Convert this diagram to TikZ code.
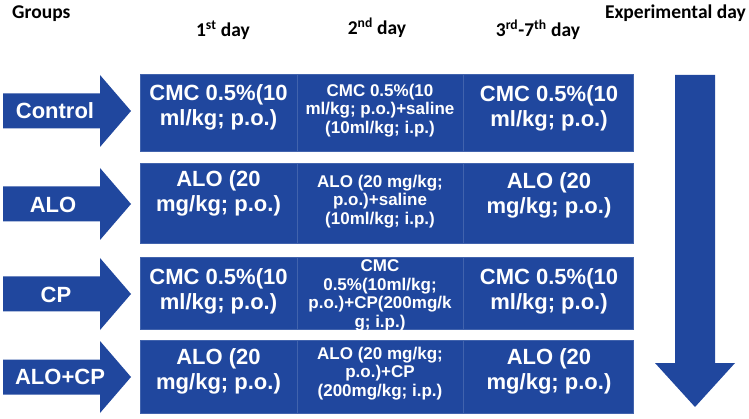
\documentclass[tikz,border=0pt]{standalone}
\usepackage{fontspec}
\setmainfont{Liberation Sans}
\newfontfamily\hdrfont{Carlito}
\definecolor{boxblue}{RGB}{32,71,158}

\begin{document}
\begin{tikzpicture}[x=1pt, y=-1pt,
    cell/.style={fill=boxblue, draw=boxblue!85!white, line width=0.5pt, inner sep=0pt},
    bigtxt/.style={text=white, font=\bfseries\fontsize{22}{25}\selectfont, align=center},
    smalltxt/.style={text=white, font=\bfseries\fontsize{17}{18.5}\selectfont, align=center},
    grplbl/.style={text=white, font=\bfseries\fontsize{22}{25}\selectfont},
    hdr/.style={font=\hdrfont\bfseries\fontsize{19.5}{22}\selectfont, inner sep=0pt}]
    \useasboundingbox (0,0) rectangle (749,419);

    % Headers
    \node[hdr, anchor=base west] (hgrp) at (12,19) {Groups};
    \node[hdr, anchor=base east] (hexp) at (746,19) {Experimental day};
    \node[hdr, anchor=base] (hday1) at (223,37) {1\textsuperscript{st} day};
    \node[hdr, anchor=base] (hday2) at (377,35) {2\textsuperscript{nd} day};
    \node[hdr, anchor=base] (hday3) at (538,37) {3\textsuperscript{rd}-7\textsuperscript{th} day};

    % Group arrows
    \foreach \yc in {111,204,294,377}
        \fill[boxblue] (3,\yc-17.5) -- (100,\yc-17.5) -- (100,\yc-36) -- (131,\yc)
            -- (100,\yc+36) -- (100,\yc+17.5) -- (3,\yc+17.5) -- cycle;
    \node[grplbl] (gctl) at (55,111) {Control};
    \node[grplbl] (galo) at (53,205) {ALO};
    \node[grplbl] (gcp) at (56,295) {CP};
    \node[grplbl] (galocp) at (60,377) {ALO+CP};

    % Control
    \node[cell, minimum width=157pt, minimum height=77pt] (ctl1) at (218.5,112.5) {};
    \node[cell, minimum width=166pt, minimum height=77pt] (ctl2) at (380,112.5) {};
    \node[cell, minimum width=170pt, minimum height=77pt] (ctl3) at (548,112.5) {};
    \node[bigtxt] (ctl1t) at (218.5,107) {CMC 0.5\%(10\\ml/kg; p.o.)};
    \node[smalltxt] (ctl2t) at (380,110.5) {CMC 0.5\%(10\\ml/kg; p.o.)+saline\\(10ml/kg; i.p.)};
    \node[bigtxt] (ctl3t) at (549,108) {CMC 0.5\%(10\\ml/kg; p.o.)};

    % ALO
    \node[cell, minimum width=157pt, minimum height=80pt] (alo1) at (218.5,203) {};
    \node[cell, minimum width=166pt, minimum height=80pt] (alo2) at (380,203) {};
    \node[cell, minimum width=170pt, minimum height=80pt] (alo3) at (548,203) {};
    \node[bigtxt] (alo1t) at (218.5,193) {ALO (20\\mg/kg; p.o.)};
    \node[smalltxt] (alo2t) at (380,201.5) {ALO (20 mg/kg;\\p.o.)+saline\\(10ml/kg; i.p.)};
    \node[bigtxt] (alo3t) at (549,195) {ALO (20\\mg/kg; p.o.)};

    % CP
    \node[cell, minimum width=157pt, minimum height=72pt] (cp1) at (218.5,293) {};
    \node[cell, minimum width=166pt, minimum height=72pt] (cp2) at (380,293) {};
    \node[cell, minimum width=170pt, minimum height=72pt] (cp3) at (548,293) {};
    \node[bigtxt] (cp1t) at (218.5,291) {CMC 0.5\%(10\\ml/kg; p.o.)};
    \node[smalltxt] (cp2t) at (380,295.5) {CMC\\0.5\%(10ml/kg;\\p.o.)+CP(200mg/k\\g; i.p.)};
    \node[bigtxt] (cp3t) at (549,291) {CMC 0.5\%(10\\ml/kg; p.o.)};

    % ALO+CP
    \node[cell, minimum width=157pt, minimum height=73pt] (ac1) at (218.5,376.5) {};
    \node[cell, minimum width=166pt, minimum height=73pt] (ac2) at (380,376.5) {};
    \node[cell, minimum width=170pt, minimum height=73pt] (ac3) at (548,376.5) {};
    \node[bigtxt] (ac1t) at (218.5,371) {ALO (20\\mg/kg; p.o.)};
    \node[smalltxt] (ac2t) at (380,373.5) {ALO (20 mg/kg;\\p.o.)+CP\\(200mg/kg; i.p.)};
    \node[bigtxt] (ac3t) at (549,371) {ALO (20\\mg/kg; p.o.)};

    % Time arrow
    \fill[boxblue] (675,75) -- (715,75) -- (715,363) -- (735,363) -- (695,407)
        -- (655,363) -- (675,363) -- cycle;
\end{tikzpicture}
\end{document}
